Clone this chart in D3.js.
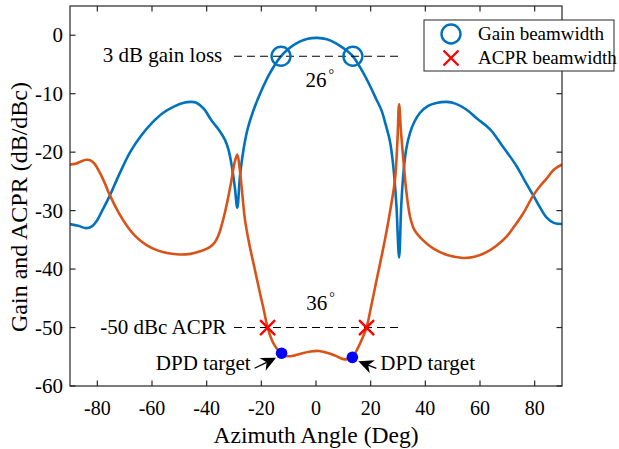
<!DOCTYPE html>
<html>
<head>
<meta charset="utf-8">
<script src="https://cdn.jsdelivr.net/npm/d3@7"></script>
<style>
  html, body { margin: 0; padding: 0; background: #fff; }
  svg text { font-family: "Liberation Serif", "Times New Roman", serif; fill: #000; }
</style>
</head>
<body>
<svg id="chart" width="619" height="449"></svg>
<script>
// Gain pattern (dB) versus azimuth angle
const angleGain = [-90, -87, -84, -82, -80, -78, -75.4, -72, -68, -64, -60, -56, -52, -48, -46, -44, -41, -38.2, -35.5, -33.3,
  -32, -30.8, -29.7, -28.8, -27.8, -26.5, -25, -23, -20, -17, -13, -10, -6, -3, 0.5, 4, 7, 10, 13.5, 17, 20,
  22, 24, 25.5, 27, 28.3, 29.4, 30.4, 31.2, 32, 33, 34.4, 36, 38, 41, 44, 47.8, 51, 55, 59, 63.7, 68,
  73.4, 76.5, 79.5, 82, 84.4, 87, 90];
const gainDb = [-32.3, -32.6, -33.0, -32.7, -31.6, -29.8, -27.4, -23.8, -20.0, -17.2, -15.0, -13.3, -12.2, -11.5, -11.4, -11.5, -12.6, -14.6, -16.2, -17.9,
  -19.6, -22.4, -26.0, -29.5, -24.0, -19.5, -16.0, -13.0, -9.5, -6.6, -3.7, -2.3, -1.1, -0.6, -0.45, -0.7, -1.3, -2.2, -3.6, -6.2, -8.9,
  -10.9, -12.9, -15.3, -18.0, -22.5, -29.0, -38.0, -29.0, -23.5, -19.5, -16.7, -14.8, -13.3, -12.1, -11.6, -11.4, -11.7, -12.7, -14.3, -16.1, -18.8,
  -22.4, -25.0, -27.4, -29.5, -31.2, -32.1, -32.3];

// ACPR (dBc) versus azimuth angle
const angleAcpr = [-90, -88, -86, -84, -82.5, -81, -79, -77, -75.4, -72, -69, -66, -62, -58, -54, -50, -46, -42, -39, -37,
  -35.5, -34, -32.5, -31, -29.8, -28.8, -28, -27, -26, -24.5, -22.5, -20.5, -19, -17.7, -16, -14.5, -12.6, -10.5, -8, -5,
  -2, 1, 4, 7, 10, 12, 13.3, 15, 16.8, 18.5, 20, 22.2, 24, 25.9, 27.4, 28.9, 29.8, 30.4, 31.1, 32,
  33, 34.4, 36, 39, 43, 48, 53.9, 58, 62, 66, 69.8, 73, 75.9, 79.5, 82, 84.4, 87, 90];
const acprDbc = [-22.1, -22.0, -21.6, -21.3, -21.4, -22.0, -23.6, -25.6, -27.4, -30.5, -32.7, -34.4, -35.9, -36.8, -37.3, -37.5, -37.4, -36.9, -36.3, -35.4,
  -34.0, -31.6, -28.6, -25.0, -21.8, -20.4, -22.5, -27.0, -31.5, -35.5, -39.8, -44.1, -47.2, -50.0, -52.3, -53.5, -54.4, -54.9, -54.8, -54.4,
  -54.1, -54.0, -54.3, -54.8, -55.4, -55.4, -55.1, -53.8, -52.0, -50.0, -46.8, -41.8, -37.8, -33.3, -29.3, -24.7, -18.0, -11.8, -16.5, -21.5,
  -26.5, -31.0, -33.3, -35.0, -36.5, -37.6, -38.1, -37.9, -37.2, -36.0, -34.4, -32.4, -30.4, -27.4, -25.8, -24.5, -23.0, -22.1];

// Beamwidth markers
const gainBwAngles = [-12.8, 13.5];
const gainBwLevel = -3.6;
const acprBwAngles = [-17.7, 18.5];
const acprBwLevel = -50;
const dpdAngles = [-12.6, 13.3];
const dpdValues = [-54.4, -55.1];

// Reference level lines span
const refLineAngles = [-30, 31.5];

// Axis ticks and labels
const xTicks = [-80, -60, -40, -20, 0, 20, 40, 60, 80];
const yTicks = [-60, -50, -40, -30, -20, -10, 0];
const xLabel = "Azimuth Angle (Deg)";
const yLabel = "Gain and ACPR (dB/dBc)";
const legendLabels = ["Gain beamwidth", "ACPR beamwidth"];
const gainLossLabel = "3 dB gain loss";
const acprLevelLabel = "-50 dBc ACPR";
const beamwidthLabels = ["26", "36"];
const dpdLabel = "DPD target";

const BLUE = "#0072BD", ORANGE = "#D95319", AXIS = "#262626";

const svg = d3.select("#chart");
const plot = { left: 70, right: 562, top: 6, bottom: 386 };

const x = d3.scaleLinear().domain([-90, 90]).range([plot.left, plot.right]);
const y = d3.scaleLinear().domain([-60, 5]).range([plot.bottom, plot.top]);

// Clip curves to the axes box
svg.append("clipPath").attr("id", "clip")
  .append("rect").attr("x", plot.left).attr("y", plot.top)
  .attr("width", plot.right - plot.left).attr("height", plot.bottom - plot.top);

const line = d3.line().x(d => x(d[0])).y(d => y(d[1])).curve(d3.curveCatmullRom.alpha(0.5));

const curves = svg.append("g").attr("clip-path", "url(#clip)");
curves.append("path")
  .datum(d3.zip(angleGain, gainDb))
  .attr("d", line).attr("fill", "none")
  .attr("stroke", BLUE).attr("stroke-width", 2.6).attr("stroke-linejoin", "round");
curves.append("path")
  .datum(d3.zip(angleAcpr, acprDbc))
  .attr("d", line).attr("fill", "none")
  .attr("stroke", ORANGE).attr("stroke-width", 2.6).attr("stroke-linejoin", "round");

// Dashed reference levels
[gainBwLevel, acprBwLevel].forEach(lv => {
  svg.append("line")
    .attr("x1", x(refLineAngles[0])).attr("x2", x(refLineAngles[1]))
    .attr("y1", y(lv)).attr("y2", y(lv))
    .attr("stroke", "#000").attr("stroke-width", 1.1)
    .attr("stroke-dasharray", "8,5");
});

// Gain beamwidth circles
svg.selectAll(".gbw").data(gainBwAngles).join("circle")
  .attr("cx", d => x(d)).attr("cy", y(gainBwLevel)).attr("r", 9.5)
  .attr("fill", "none").attr("stroke", BLUE).attr("stroke-width", 2.4);

// ACPR beamwidth crosses
function cross(g, cx, cy, s) {
  g.append("path")
    .attr("d", `M${cx - s},${cy - s}L${cx + s},${cy + s}M${cx - s},${cy + s}L${cx + s},${cy - s}`)
    .attr("stroke", "#FF0000").attr("stroke-width", 2.4).attr("fill", "none");
}
acprBwAngles.forEach(a => cross(svg, x(a), y(acprBwLevel), 7.5));

// DPD target points
svg.selectAll(".dpd").data(d3.zip(dpdAngles, dpdValues)).join("circle")
  .attr("cx", d => x(d[0])).attr("cy", d => y(d[1])).attr("r", 5.8)
  .attr("fill", "#0000FF");

// Annotation texts
const annFont = 21;
svg.append("text").attr("x", x(-34.3)).attr("y", y(gainBwLevel) + 6)
  .attr("text-anchor", "end").attr("font-size", annFont).text(gainLossLabel);
svg.append("text").attr("x", x(-32.8)).attr("y", y(acprBwLevel) + 6)
  .attr("text-anchor", "end").attr("font-size", annFont).text(acprLevelLabel);

function degLabel(xp, yp, txt) {
  const t = svg.append("text").attr("x", xp).attr("y", yp).attr("font-size", annFont);
  t.append("tspan").text(txt);
  t.append("tspan").attr("dx", 2).attr("dy", -8).attr("font-size", 14).text("°");
}
degLabel(x(-3.8), y(gainBwLevel) + 31, beamwidthLabels[0]);
degLabel(x(-3.6), y(acprBwLevel) - 18, beamwidthLabels[1]);

// DPD target arrows with notched filled heads
function arrow(x1, y1, x2, y2) {
  const ang = Math.atan2(y2 - y1, x2 - x1);
  const L = 15, W = 7, N = 4.5;
  const ux = Math.cos(ang), uy = Math.sin(ang);
  const nx = -uy, ny = ux;
  const bx = x2 - L * ux, by = y2 - L * uy;
  const cx = x2 - (L - N) * ux, cy = y2 - (L - N) * uy;
  svg.append("line").attr("x1", x1).attr("y1", y1).attr("x2", cx).attr("y2", cy)
    .attr("stroke", "#000").attr("stroke-width", 1.3);
  svg.append("path")
    .attr("d", `M${x2},${y2}L${bx + nx * W},${by + ny * W}L${cx},${cy}L${bx - nx * W},${by - ny * W}Z`)
    .attr("fill", "#000");
}
const pL = [x(dpdAngles[0]), y(dpdValues[0])];
const pR = [x(dpdAngles[1]), y(dpdValues[1])];
arrow(pL[0] - 27, pL[1] + 15, pL[0] - 5.5, pL[1] + 4.5);
arrow(pR[0] + 24, pR[1] + 11, pR[0] + 6, pR[1] + 4);
svg.append("text").attr("x", pL[0] - 31).attr("y", pL[1] + 17)
  .attr("text-anchor", "end").attr("font-size", annFont).text(dpdLabel);
svg.append("text").attr("x", pR[0] + 28).attr("y", pR[1] + 13)
  .attr("font-size", annFont).text(dpdLabel);

// Axes box with inward ticks on all sides
const axes = svg.append("g");
axes.append("rect").attr("x", plot.left).attr("y", plot.top)
  .attr("width", plot.right - plot.left).attr("height", plot.bottom - plot.top)
  .attr("fill", "none").attr("stroke", AXIS).attr("stroke-width", 1.2);
const TL = 5.5;
xTicks.forEach(t => {
  axes.append("line").attr("x1", x(t)).attr("x2", x(t)).attr("y1", plot.bottom).attr("y2", plot.bottom - TL)
    .attr("stroke", AXIS).attr("stroke-width", 1.2);
  axes.append("line").attr("x1", x(t)).attr("x2", x(t)).attr("y1", plot.top).attr("y2", plot.top + TL)
    .attr("stroke", AXIS).attr("stroke-width", 1.2);
  axes.append("text").attr("x", x(t)).attr("y", plot.bottom + 29)
    .attr("text-anchor", "middle").attr("font-size", 20).text(t);
});
yTicks.forEach(t => {
  axes.append("line").attr("x1", plot.left).attr("x2", plot.left + TL).attr("y1", y(t)).attr("y2", y(t))
    .attr("stroke", AXIS).attr("stroke-width", 1.2);
  axes.append("line").attr("x1", plot.right).attr("x2", plot.right - TL).attr("y1", y(t)).attr("y2", y(t))
    .attr("stroke", AXIS).attr("stroke-width", 1.2);
  axes.append("text").attr("x", plot.left - 7).attr("y", y(t) + 7)
    .attr("text-anchor", "end").attr("font-size", 21).text(t);
});

svg.append("text").attr("x", x(0)).attr("y", 443)
  .attr("text-anchor", "middle").attr("font-size", 23.5).text(xLabel);
svg.append("text").attr("transform", "translate(27,207) rotate(-90)")
  .attr("text-anchor", "middle").attr("font-size", 24).text(yLabel);

// Legend
const lg = svg.append("g");
lg.append("rect").attr("x", 424).attr("y", 20).attr("width", 190).attr("height", 51)
  .attr("fill", "#fff").attr("stroke", AXIS).attr("stroke-width", 1);
lg.append("circle").attr("cx", 451).attr("cy", 34).attr("r", 9.5)
  .attr("fill", "none").attr("stroke", BLUE).attr("stroke-width", 2.4);
cross(lg, 451, 58, 7.5);
legendLabels.forEach((s, i) => {
  lg.append("text").attr("x", 478).attr("y", 40 + i * 24).attr("font-size", 19).text(s);
});
</script>
</body>
</html>
